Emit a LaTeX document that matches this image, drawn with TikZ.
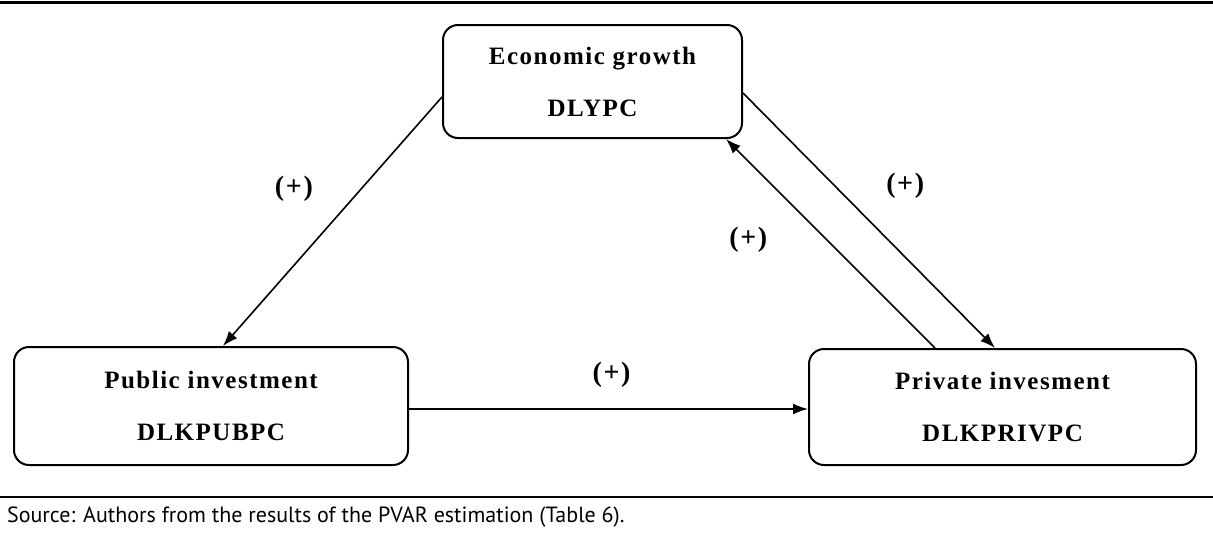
\documentclass[tikz,border=0pt]{standalone}
\usepackage{fontspec}
\setmainfont{Liberation Serif}
\newfontfamily\srcfont{PT Sans}
\usetikzlibrary{arrows.meta,positioning}

\begin{document}
\begin{tikzpicture}[x=1pt,y=1pt,->,>={Latex[length=15pt,width=11pt]},line width=1.6pt,
    var/.style={draw,rounded corners=15pt,line width=2pt,align=center,
      font=\fontsize{25}{52}\selectfont\bfseries\addfontfeature{LetterSpace=6}},
    sign/.style={font=\fontsize{28}{28}\selectfont\bfseries\addfontfeature{LetterSpace=6}}]
  \useasboundingbox (0,0) rectangle (1213,-533);

  \node[var,minimum width=299pt,minimum height=113pt] (eco) at (592.5,-81.5) {Economic growth\\DLYPC};
  \node[var,minimum width=394pt,minimum height=118pt] (pub) [below left=207pt and 33pt of eco] {Public investment\\DLKPUBPC};
  \node[var,minimum width=387pt,minimum height=116pt] (priv) [below right=209pt and 65pt of eco] {Private invesment\\DLKPRIVPC};

  \draw ([yshift=-15.5pt]eco.west) -- ([xshift=12pt]pub.north)
        node[sign,pos=0.37,xshift=-67pt] {(+)};
  \draw ([yshift=-11.5pt]eco.east) -- ([xshift=-7.5pt]priv.north)
        node[sign,pos=0.362,xshift=71pt] {(+)};
  \draw ([xshift=-67.5pt]priv.north) -- ([xshift=-17pt]eco.south east)
        node[sign,pos=0.52,xshift=-78pt] {(+)};
  \draw ([yshift=-3pt]pub.east) -- ([yshift=-3pt]pub.east -| priv.west)
        node[sign,midway,xshift=3pt,yshift=34pt] {(+)};

  \draw[-,line width=3pt] (0,-2.5) -- (1213,-2.5);
  \draw[-,line width=1.5pt] (0,-497) -- (1213,-497);
  \node[anchor=base west,font=\srcfont\fontsize{22}{22}\selectfont] (src) at (3,-522)
       {Source: Authors from the results of the PVAR estimation (Table 6).};
\end{tikzpicture}
\end{document}
